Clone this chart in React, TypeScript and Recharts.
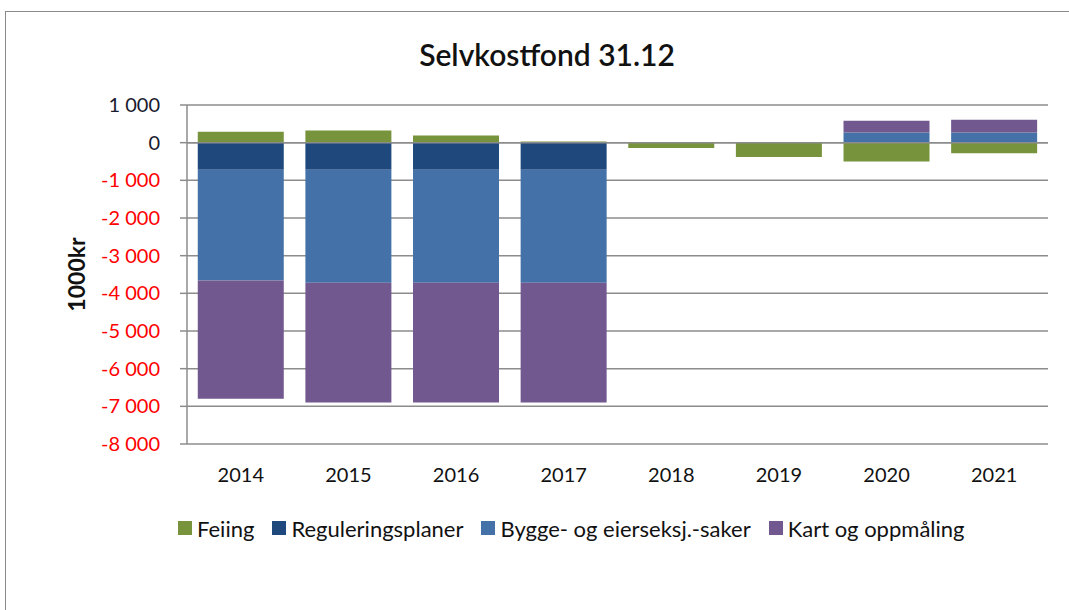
import { BarChart, Bar, XAxis, YAxis, CartesianGrid, ReferenceLine, Legend } from "recharts";

const years = ["2014", "2015", "2016", "2017", "2018", "2019", "2020", "2021"];
const feiing = [290, 320, 190, 30, -140, -380, -500, -280];
const regulering = [-720, -720, -720, -720, 0, 0, 0, 0];
const bygge = [-2940, -3000, -3000, -3000, 0, 0, 270, 270];
const kart = [-3140, -3180, -3180, -3180, 0, 0, 310, 340];
const yTicks = [1000, 0, -1000, -2000, -3000, -4000, -5000, -6000, -7000, -8000];

const series = [
  { key: "feiing", name: "Feiing", color: "#77933C" },
  { key: "regulering", name: "Reguleringsplaner", color: "#1F497D" },
  { key: "bygge", name: "Bygge- og eierseksj.-saker", color: "#4472A8" },
  { key: "kart", name: "Kart og oppmåling", color: "#71588F" },
];

const data = years.map((year, i) => ({
  year,
  feiing: feiing[i],
  regulering: regulering[i],
  bygge: bygge[i],
  kart: kart[i],
}));

const FONT = "Lato, 'Open Sans', sans-serif";

const fmt = (v: number) => {
  const s = Math.abs(v).toString().replace(/\B(?=(\d{3})+(?!\d))/g, " ");
  return v < 0 ? "-" + s : s;
};

const YTick = (props: any) => {
  const { x, y, payload } = props;
  return (
    <text x={x} y={y} dx={-18} dy={7} textAnchor="end" fontSize={20} fontFamily={FONT}
      fill={payload.value < 0 ? "#FF0000" : "#1a1a2e"}>
      {fmt(payload.value)}
    </text>
  );
};

const YLabel = (props: any) => {
  const { viewBox } = props;
  const cx = 76;
  const cy = viewBox.y + viewBox.height / 2;
  return (
    <text x={cx} y={cy} transform={`rotate(-90 ${cx} ${cy})`} textAnchor="middle" dominantBaseline="central"
      fontSize={23} fontWeight={700} fontFamily={FONT} fill="#111">
      1000kr
    </text>
  );
};

const LegendContent = () => (
  <div style={{ display: "flex", height: 24, alignItems: "center", paddingLeft: 178, fontFamily: FONT, fontSize: 22, color: "#111", whiteSpace: "nowrap" }}>
    {series.map((s) => (
      <span key={s.key} style={{ display: "flex", alignItems: "center", marginRight: 18 }}>
        <span style={{ width: 14, height: 14, background: s.color, marginRight: 5, display: "inline-block" }} />
        {s.name}
      </span>
    ))}
  </div>
);

export default function App() {
  return (
    <div style={{ position: "fixed", left: 0, top: 0, width: 1069, height: 610, background: "#fff", overflow: "hidden" }}>
      <div style={{ position: "absolute", left: 5, top: 11, width: 1200, height: 700, border: "1.5px solid #8a8a8a" }} />
      <div style={{ position: "absolute", left: 0, top: 36, width: 1094, textAlign: "center", fontFamily: FONT, fontSize: 30, fontWeight: 600, color: "#111" }}>
        Selvkostfond 31.12
      </div>
      <div style={{ position: "absolute", left: 0, top: 0 }}>
        <BarChart width={1069} height={610} data={data} stackOffset="sign" barCategoryGap="10%"
          margin={{ top: 105, right: 21, left: 0, bottom: 102 }}>
          <CartesianGrid vertical={false} stroke="#8c8c8c" strokeWidth={1.5} />
          <XAxis dataKey="year" axisLine={false} tickLine={false} height={40}
            tick={{ fontSize: 20, fontFamily: FONT, fill: "#111" }} dy={16} />
          <YAxis type="number" domain={[-8000, 1000]} ticks={yTicks} interval={0} width={187}
            axisLine={{ stroke: "#8c8c8c", strokeWidth: 1.5 }} tickLine={{ stroke: "#8c8c8c", strokeWidth: 1.5 }}
            tickSize={7} tick={<YTick />} label={<YLabel />} />
          <ReferenceLine y={0} stroke="#8c8c8c" strokeWidth={1.5} />
          <Legend verticalAlign="bottom" content={<LegendContent />} wrapperStyle={{ top: 516, left: 0, width: 1069 }} />
          {series.map((s) => (
            <Bar key={s.key} dataKey={s.key} name={s.name} stackId="a" fill={s.color} isAnimationActive={false} />
          ))}
        </BarChart>
      </div>
    </div>
  );
}
